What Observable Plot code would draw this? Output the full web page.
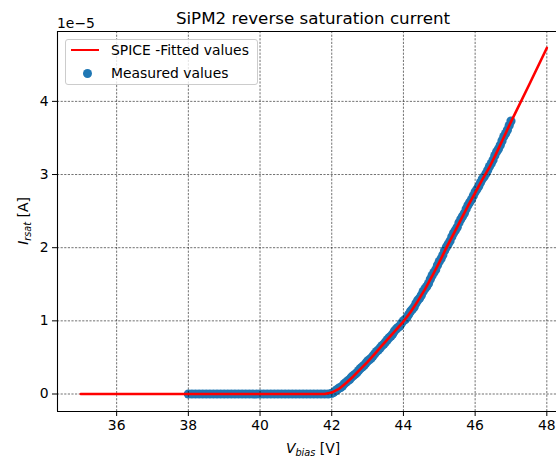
<!DOCTYPE html>
<html>
<head>
<meta charset="utf-8">
<script src="https://cdn.jsdelivr.net/npm/d3@7"></script>
<script src="https://cdn.jsdelivr.net/npm/@observablehq/plot@0.6"></script>
<style>
  html, body { margin: 0; padding: 0; background: #fff; overflow: hidden; }
  #wrap { position: relative; width: 556px; height: 461px; overflow: hidden; font-family: "DejaVu Sans", sans-serif; color: #000; }
  #wrap svg { position: absolute; left: 0; top: 0; }
  .abs { position: absolute; white-space: nowrap; }
  .sub { font-size: 0.7em; position: relative; top: 0.3em; }
</style>
</head>
<body>
<div id="wrap"></div>
<script>
// ---- data (currents in units of 1e-5 A) ----
const titleText = "SiPM2 reverse saturation current";
const xTicks = [36, 38, 40, 42, 44, 46, 48];
const yTicks = [0, 1, 2, 3, 4];
const multiplierLabel = "1e\u22125";
const legendFit = "SPICE -Fitted values";
const legendMeasured = "Measured values";

const fitV = [35, 36, 37, 38, 39, 40, 41, 41.8, 42.0, 42.2, 42.4, 42.6, 42.8, 43.0, 43.2, 43.4, 43.6, 43.8, 44.0, 44.2, 44.4, 44.6, 44.8, 45.0, 45.2, 45.4, 45.6, 45.8, 46.0, 46.2, 46.4, 46.6, 46.8, 47.0, 47.5, 48.0];
const fitI = [0, 0, 0, 0, 0, 0, 0, 0, 0.02, 0.07, 0.15, 0.24, 0.34, 0.44, 0.55, 0.66, 0.77, 0.88, 0.99, 1.12, 1.27, 1.43, 1.61, 1.80, 2.00, 2.19, 2.38, 2.57, 2.75, 2.93, 3.10, 3.30, 3.51, 3.72, 4.22, 4.73];

const measuredV = [38.0, 38.1, 38.2, 38.3, 38.4, 38.5, 38.6, 38.7, 38.8, 38.9,
  39.0, 39.1, 39.2, 39.3, 39.4, 39.5, 39.6, 39.7, 39.8, 39.9,
  40.0, 40.1, 40.2, 40.3, 40.4, 40.5, 40.6, 40.7, 40.8, 40.9,
  41.0, 41.1, 41.2, 41.3, 41.4, 41.5, 41.6, 41.7, 41.8, 41.9,
  42.00, 42.05, 42.10, 42.15, 42.20, 42.25, 42.30, 42.35, 42.40, 42.45,
  42.50, 42.55, 42.60, 42.65, 42.70, 42.75, 42.80, 42.85, 42.90, 42.95,
  43.00, 43.05, 43.10, 43.15, 43.20, 43.25, 43.30, 43.35, 43.40, 43.45,
  43.50, 43.55, 43.60, 43.65, 43.70, 43.75, 43.80, 43.85, 43.90, 43.95,
  44.00, 44.05, 44.10, 44.15, 44.20, 44.25, 44.30, 44.35, 44.40, 44.45,
  44.50, 44.55, 44.60, 44.65, 44.70, 44.75, 44.80, 44.85, 44.90, 44.95,
  45.00, 45.05, 45.10, 45.15, 45.20, 45.25, 45.30, 45.35, 45.40, 45.45,
  45.50, 45.55, 45.60, 45.65, 45.70, 45.75, 45.80, 45.85, 45.90, 45.95,
  46.00, 46.05, 46.10, 46.15, 46.20, 46.25, 46.30, 46.35, 46.40, 46.45,
  46.50, 46.55, 46.60, 46.65, 46.70, 46.75, 46.80, 46.85, 46.90, 46.95, 47.00];
const measuredI = [0, 0, 0, 0, 0, 0, 0, 0, 0, 0,
  0, 0, 0, 0, 0, 0, 0, 0, 0, 0,
  0, 0, 0, 0, 0, 0, 0, 0, 0, 0,
  0, 0, 0, 0, 0, 0, 0, 0, 0, 0,
  0.01, 0.02, 0.04, 0.06, 0.08, 0.09, 0.11, 0.14, 0.16, 0.18,
  0.20, 0.23, 0.25, 0.27, 0.29, 0.32, 0.35, 0.37, 0.39, 0.42,
  0.45, 0.47, 0.49, 0.52, 0.55, 0.58, 0.60, 0.63, 0.66, 0.68,
  0.71, 0.74, 0.77, 0.79, 0.82, 0.86, 0.89, 0.91, 0.93, 0.97,
  1.00, 1.02, 1.05, 1.09, 1.13, 1.16, 1.19, 1.24, 1.28, 1.31,
  1.35, 1.40, 1.44, 1.47, 1.51, 1.57, 1.62, 1.66, 1.70, 1.76,
  1.81, 1.85, 1.90, 1.96, 2.01, 2.05, 2.09, 2.15, 2.20, 2.24,
  2.28, 2.34, 2.39, 2.43, 2.47, 2.53, 2.58, 2.62, 2.66, 2.71,
  2.76, 2.80, 2.84, 2.89, 2.94, 2.97, 3.01, 3.06, 3.11, 3.15,
  3.20, 3.26, 3.31, 3.35, 3.40, 3.46, 3.52, 3.56, 3.61, 3.67, 3.73];

const xDomain = [34.35, 48.27];
const yDomain = [-0.239, 4.955];

const fit = fitV.map((v, i) => ({v, c: fitI[i]}));
const measured = measuredV.map((v, i) => ({v, c: measuredI[i]}));

const grid = {stroke: "#000", strokeOpacity: 0.8, strokeWidth: 0.7, strokeDasharray: "2.2,1.4"};

const chart = Plot.plot({
  width: 556,
  height: 461,
  marginLeft: 57,
  marginRight: 0,
  marginTop: 31,
  marginBottom: 50,
  style: {fontFamily: "DejaVu Sans, sans-serif", fontSize: "13.9px", color: "#000", background: "transparent", overflow: "visible"},
  x: {domain: xDomain, ticks: xTicks, tickFormat: d => String(d), tickSize: 5, tickPadding: 4, label: null},
  y: {domain: yDomain, ticks: yTicks, tickFormat: d => String(d), tickSize: 5, tickPadding: 4, label: null},
  marks: [
    Plot.dot(measured, {x: "v", y: "c", r: 4.6, fill: "#1f77b4", stroke: "none"}),
    Plot.ruleX(xTicks, grid),
    Plot.ruleY(yTicks, grid),
    Plot.line(fit, {x: "v", y: "c", stroke: "red", strokeWidth: 2.6}),
    Plot.ruleX([xDomain[0]], {stroke: "#000", strokeWidth: 1.1}),
    Plot.ruleY([yDomain[0]], {stroke: "#000", strokeWidth: 1.1}),
    Plot.ruleY([yDomain[1]], {stroke: "#000", strokeWidth: 1.1})
  ]
});

const wrap = document.getElementById("wrap");
wrap.appendChild(chart);

function addDiv(html, css) {
  const d = document.createElement("div");
  d.className = "abs";
  d.innerHTML = html;
  Object.assign(d.style, css);
  wrap.appendChild(d);
  return d;
}

// title
addDiv(titleText, {left: "113px", width: "400px", top: "8px", textAlign: "center", fontSize: "16.7px", lineHeight: "20px"});
// multiplier
addDiv(multiplierLabel, {left: "57px", top: "15px", fontSize: "13.9px", lineHeight: "16px"});
// x label
addDiv('<i>V</i><i class="sub">bias</i> [V]', {left: "213px", width: "200px", top: "440px", textAlign: "center", fontSize: "13.9px", lineHeight: "16px"});
// y label
addDiv('<i>I</i><i class="sub">rsat</i> [A]', {left: "-37px", width: "120px", top: "213px", textAlign: "center", fontSize: "13.9px", lineHeight: "16px", transform: "rotate(-90deg)", transformOrigin: "60px 8px"});

// legend
const leg = addDiv("", {left: "65px", top: "39px", width: "191px", height: "44px", border: "1px solid #cccccc", borderRadius: "3px", background: "rgba(255,255,255,0.8)", fontSize: "13.9px"});
const sw = document.createElement("div");
Object.assign(sw.style, {position: "absolute", left: "5px", top: "8.5px", width: "28px", height: "2.6px", background: "red"});
leg.appendChild(sw);
const dot = document.createElement("div");
Object.assign(dot.style, {position: "absolute", left: "17px", top: "28.5px", width: "9.2px", height: "9.2px", borderRadius: "50%", background: "#1f77b4"});
leg.appendChild(dot);
const t1 = document.createElement("div");
Object.assign(t1.style, {position: "absolute", left: "45px", top: "1.5px", lineHeight: "16px"});
t1.textContent = legendFit;
leg.appendChild(t1);
const t2 = document.createElement("div");
Object.assign(t2.style, {position: "absolute", left: "45px", top: "24.5px", lineHeight: "16px"});
t2.textContent = legendMeasured;
leg.appendChild(t2);
</script>
</body>
</html>
